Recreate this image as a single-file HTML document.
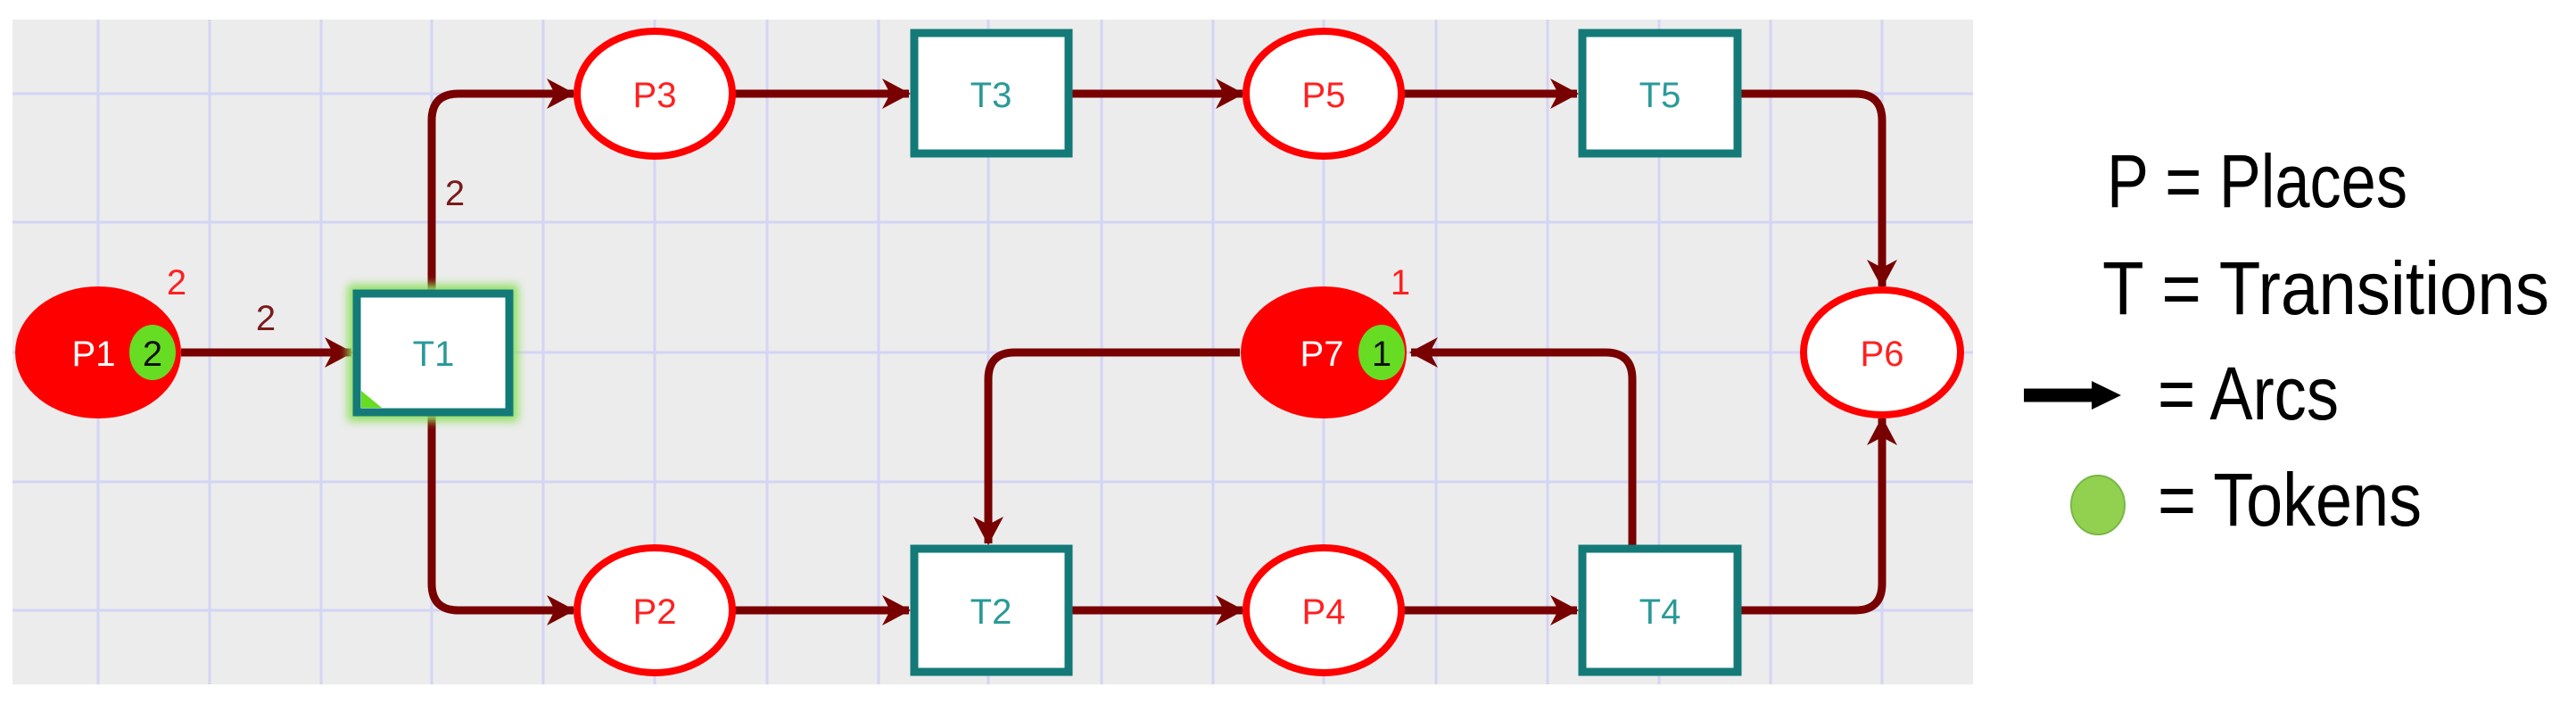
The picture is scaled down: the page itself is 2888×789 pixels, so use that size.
<!DOCTYPE html>
<html><head><meta charset="utf-8"><style>
html,body{margin:0;padding:0;background:#fff;width:2888px;height:789px;overflow:hidden}
svg{display:block}
text{font-family:"Liberation Sans",sans-serif}
</style></head><body>
<svg width="2888" height="789" viewBox="0 0 2888 789" xmlns="http://www.w3.org/2000/svg">
<defs>
<marker id="ah" markerWidth="34" markerHeight="34" refX="30" refY="17" orient="auto" markerUnits="userSpaceOnUse">
<path d="M0,0 L32,17 L0,34 L9,17 Z" fill="#780000"/>
</marker>
<filter id="glow" x="-20%" y="-20%" width="140%" height="140%"><feGaussianBlur stdDeviation="5"/></filter>
</defs>
<rect x="14" y="22" width="2198" height="745" fill="#ececec"/>
<g stroke="#d4d4f6" stroke-width="3">
<line x1="110" y1="22" x2="110" y2="767"/><line x1="235" y1="22" x2="235" y2="767"/><line x1="360" y1="22" x2="360" y2="767"/><line x1="484" y1="22" x2="484" y2="767"/><line x1="609" y1="22" x2="609" y2="767"/><line x1="734" y1="22" x2="734" y2="767"/><line x1="860" y1="22" x2="860" y2="767"/><line x1="985" y1="22" x2="985" y2="767"/><line x1="1108" y1="22" x2="1108" y2="767"/><line x1="1235" y1="22" x2="1235" y2="767"/><line x1="1360" y1="22" x2="1360" y2="767"/><line x1="1484" y1="22" x2="1484" y2="767"/><line x1="1610" y1="22" x2="1610" y2="767"/><line x1="1735" y1="22" x2="1735" y2="767"/><line x1="1860" y1="22" x2="1860" y2="767"/><line x1="1985" y1="22" x2="1985" y2="767"/><line x1="2110" y1="22" x2="2110" y2="767"/>
<line x1="14" y1="105" x2="2212" y2="105"/><line x1="14" y1="249" x2="2212" y2="249"/><line x1="14" y1="395" x2="2212" y2="395"/><line x1="14" y1="540" x2="2212" y2="540"/><line x1="14" y1="684" x2="2212" y2="684"/>
</g>
<g stroke="#780000" stroke-width="9" fill="none" marker-end="url(#ah)">
<path d="M203,395 L394,395"/>
<path d="M484,325 L484,135 Q484,105 514,105 L643,105"/>
<path d="M484,466 L484,654 Q484,684 514,684 L643,684"/>
<path d="M823,105 L1019,105"/>
<path d="M823,684 L1019,684"/>
<path d="M1202,105 L1393,105"/>
<path d="M1202,684 L1393,684"/>
<path d="M1573,105 L1768,105"/>
<path d="M1573,684 L1768,684"/>
<path d="M1952,105 L2080,105 Q2110,105 2110,135 L2110,321"/>
<path d="M1952,684 L2080,684 Q2110,684 2110,654 L2110,469"/>
<path d="M1390,395 L1138,395 Q1108,395 1108,425 L1108,609"/>
<path d="M1830,611 L1830,425 Q1830,395 1800,395 L1582,395"/>
</g>
<ellipse cx="110" cy="395" rx="93" ry="74" fill="#ff0000"/>
<ellipse cx="1484" cy="395" rx="93" ry="74" fill="#ff0000"/>
<g fill="#fff" stroke="#ff0000" stroke-width="8">
<ellipse cx="734" cy="105" rx="87" ry="70"/>
<ellipse cx="734" cy="684" rx="87" ry="70"/>
<ellipse cx="1484" cy="105" rx="87" ry="70"/>
<ellipse cx="1484" cy="684" rx="87" ry="70"/>
<ellipse cx="2110" cy="395" rx="88" ry="70"/>
</g>
<ellipse cx="171" cy="395" rx="26" ry="31" fill="#66dd22"/>
<ellipse cx="1549" cy="395" rx="26" ry="31" fill="#66dd22"/>
<g font-size="40" text-anchor="middle">
<text x="105" y="410" fill="#fff">P1</text>
<text x="1482" y="410" fill="#fff">P7</text>
<text x="171" y="410" fill="#111">2</text>
<text x="1549" y="410" fill="#111">1</text>
<g fill="#ff2020">
<text x="734" y="120">P3</text><text x="734" y="699">P2</text>
<text x="1484" y="120">P5</text><text x="1484" y="699">P4</text>
<text x="2110" y="410">P6</text>
<text x="198" y="330">2</text><text x="1570" y="330">1</text>
</g>
<g fill="#7a1a1a">
<text x="298" y="370">2</text><text x="510" y="230">2</text>
</g>
</g>
<rect x="390" y="319" width="191" height="153" fill="#8fe060" filter="url(#glow)"/>
<g fill="#fff" stroke="#137a78" stroke-width="9">
<rect x="400" y="329" width="171" height="133"/>
<rect x="1025" y="37" width="173" height="135"/>
<rect x="1025" y="615" width="173" height="138"/>
<rect x="1774" y="37" width="174" height="135"/>
<rect x="1774" y="615" width="174" height="138"/>
</g>
<polygon points="405,438 405,457 428,457" fill="#66dd22"/>
<g font-size="40" text-anchor="middle" fill="#2a9a98">
<text x="486" y="410">T1</text>
<text x="1111" y="120">T3</text><text x="1111" y="699">T2</text>
<text x="1861" y="120">T5</text><text x="1861" y="699">T4</text>
</g>
<g font-size="84" fill="#000">
<text x="2362" y="232" textLength="337" lengthAdjust="spacingAndGlyphs">P = Places</text>
<text x="2357" y="352" textLength="501" lengthAdjust="spacingAndGlyphs">T = Transitions</text>
<text x="2419" y="470" textLength="203" lengthAdjust="spacingAndGlyphs">= Arcs</text>
<text x="2419" y="589" textLength="296" lengthAdjust="spacingAndGlyphs">= Tokens</text>
</g>
<line x1="2269" y1="443" x2="2350" y2="443" stroke="#000" stroke-width="15"/>
<polygon points="2345,427 2378,443 2345,459" fill="#000"/>
<ellipse cx="2352" cy="566" rx="30" ry="33" fill="#92d050" stroke="#7ab648" stroke-width="2"/>
</svg>
</body></html>
